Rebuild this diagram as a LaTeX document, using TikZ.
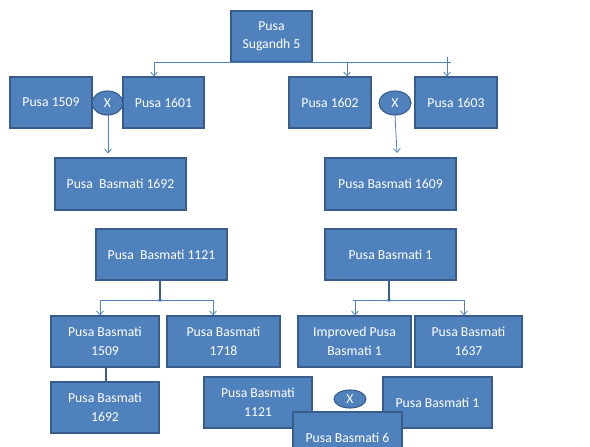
\documentclass[tikz,border=0pt]{standalone}
\usepackage{fontspec}
\setmainfont{Carlito}
\usetikzlibrary{arrows.meta,shapes.geometric}
\definecolor{boxfill}{HTML}{4F81BD}
\definecolor{boxline}{HTML}{385D8A}
\begin{document}
\begin{tikzpicture}[x=1pt,y=-1pt,
  box/.style={draw=boxline,line width=1.1pt,fill=boxfill,text=white,inner sep=0pt,
    font=\fontsize{13.7}{18.5}\selectfont,align=center},
  cross/.style={ellipse,draw=boxline,line width=1.1pt,fill=boxfill,text=white,inner sep=0pt,
    font=\fontsize{13.7}{16}\selectfont},
  arr/.style={draw=boxfill,line width=0.8pt,-{Straight Barb[length=4pt,width=7pt]}},
  thinln/.style={draw=boxfill,line width=0.8pt},
  thickln/.style={draw=boxline,line width=2.4pt}]
\useasboundingbox (0,0) rectangle (590,447);
\fill[white] (0,0) rectangle (590,447);

% boxes
\node[box,minimum width=81pt,minimum height=51pt] (S) at (271.5,36.5) {Pusa\\Sugandh 5};
\node[box,minimum width=82pt,minimum height=51pt] (p1509) at (51,102.5) {Pusa 1509};
\node[box,minimum width=81pt,minimum height=51pt] (p1601) at (163.5,102.5) {Pusa 1601};
\node[box,minimum width=82pt,minimum height=51pt] (p1602) at (330,102.5) {Pusa 1602};
\node[box,minimum width=82pt,minimum height=51pt] (p1603) at (456,102.5) {Pusa 1603};
\node[cross,minimum width=31pt,minimum height=24pt] (x1) at (107.5,103) {X};
\node[cross,minimum width=32pt,minimum height=24pt] (x2) at (395,103) {X};

\node[box,minimum width=131pt,minimum height=52pt] (pb1692a) at (120.5,184) {Pusa\ \ Basmati 1692};
\node[box,minimum width=131pt,minimum height=52pt] (pb1609) at (390.5,184) {Pusa Basmati 1609};
\node[box,minimum width=131pt,minimum height=51pt] (pb1121) at (161.5,254.5) {Pusa\ \ Basmati 1121};
\node[box,minimum width=131pt,minimum height=51pt] (pb1) at (390.5,254.5) {Pusa Basmati 1};

\node[box,minimum width=108pt,minimum height=51pt] (pb1509) at (105,341.5) {Pusa Basmati\\1509};
\node[box,minimum width=113pt,minimum height=51pt] (pb1718) at (223.5,341.5) {Pusa Basmati\\1718};
\node[box,minimum width=113pt,minimum height=51pt] (ipb1) at (354.5,341.5) {Improved Pusa\\Basmati 1};
\node[box,minimum width=107pt,minimum height=51pt] (pb1637) at (468.5,341.5) {Pusa Basmati\\1637};
\node[box,minimum width=108pt,minimum height=51pt] (pb1692b) at (105,407.5) {Pusa Basmati\\1692};
\node[box,minimum width=108pt,minimum height=51pt] (pb1121b) at (258,402.5) {Pusa Basmati\\1121};
\node[cross,minimum width=32pt,minimum height=18pt] (x3) at (350,399) {X};
\node[box,minimum width=109pt,minimum height=51pt] (pb1b) at (437.5,402.5) {Pusa Basmati 1};

% top connectors
\coordinate (hl) at (154,62);
\coordinate (hr) at (451,62);
\coordinate (a1) at (154,62);
\coordinate (a2) at (347,62);
\coordinate (a3) at (447,57);
\draw[thinln] (hl) -- (hr);
\draw[arr] (a1) -- (a1 |- p1601.north);
\draw[arr] (a2) -- (a2 |- p1602.north);
\draw[arr] (a3) -- (a3 |- p1603.north);

% cross results
\coordinate (c1) at (108,115);
\draw[arr,shorten >=4pt] (c1) -- (c1 |- pb1692a.north);
\coordinate (c2) at (395,115);
\coordinate (c2e) at (397,153);
\draw[arr] (c2) -- (c2e);

% lower left tree
\coordinate (j1) at (160,300);
\coordinate (l1) at (100,300);
\coordinate (r1) at (213,300);
\draw[thickln] (pb1121.south -| j1) -- (j1);
\fill[boxline] (j1) circle (1.8pt);
\draw[thinln] (l1) -- (r1);
\draw[arr] (l1) -- (l1 |- pb1509.north);
\draw[arr] (r1) -- (r1 |- pb1718.north);

% lower right tree
\coordinate (j2) at (389,300);
\coordinate (l2) at (353,300);
\coordinate (r2) at (464,300);
\coordinate (l2a) at (355,300);
\draw[thickln] (pb1.south -| j2) -- (j2);
\fill[boxline] (j2) circle (1.8pt);
\draw[thinln] (l2) -- (r2);
\draw[arr] (l2a) -- (l2a |- ipb1.north);
\draw[arr] (r2) -- (r2 |- pb1637.north);

% 1509 -> 1692
\coordinate (v1) at (106,367);
\draw[thickln] (v1) -- (v1 |- pb1692b.north);

% overlapping box on top
\node[box,minimum width=109pt,minimum height=51pt] (pb6) at (347.5,437.5) {Pusa Basmati 6};
\end{tikzpicture}
\end{document}
